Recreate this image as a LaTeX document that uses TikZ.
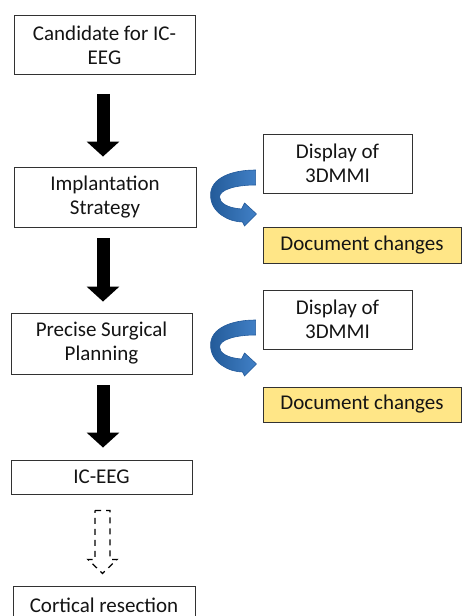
\documentclass[tikz,border=0pt]{standalone}
\usepackage{fontspec}
\setmainfont{Carlito}
\usetikzlibrary{arrows.meta,calc}
\definecolor{ribbon}{RGB}{44,114,192}
\definecolor{ribbonedge}{RGB}{35,90,155}
\definecolor{docyellow}{RGB}{255,230,135}
\definecolor{txt}{RGB}{20,20,20}
\definecolor{edge}{RGB}{50,50,50}
\begin{document}
\begin{tikzpicture}[x=1pt,y=-1pt,
  box/.style={draw=edge, line width=0.9pt, fill=white, align=center, inner sep=0pt, text=txt, font=\fontsize{21}{24}\selectfont},
  docbox/.style={box, fill=docyellow},
  blk/.style={line width=13pt, black, -{Triangle[width=32pt,length=15pt]}},
  dasharrow/.style={draw=black, line width=1.3pt, dash pattern=on 6pt off 5pt, fill=white},
  ribbon/.pic={
    \draw[ribbonedge, line width=0.6pt, left color=ribbon!80!black, right color=ribbon!90!white]
      (-7,6.5) .. controls (-31,6.5) and (-52,14.5) .. (-52,31.5)
      .. controls (-52,49.5) and (-33,58.5) .. (-20,58.5)
      -- (-18,62.5) -- (-6,50.5) -- (-18,39.5) -- (-21,45.5)
      .. controls (-35,44.5) and (-43,39.5) .. (-43,33.5)
      .. controls (-43,26.5) and (-28,21.5) .. (-7,21.5) -- cycle;
  },
]
\clip (0,0) rectangle (462,616);
\useasboundingbox (0,0) rectangle (462,616);

\node[box, minimum width=181pt, minimum height=59pt] (cand) at (104.5,45) {Candidate for IC-\\EEG};
\node[box, minimum width=182pt, minimum height=60pt] (impl) at (105,197) {Implantation\\Strategy};
\node[box, minimum width=181pt, minimum height=61pt] (plan) at (101.5,343.5) {Precise Surgical\\Planning};
\node[box, minimum width=181pt, minimum height=34pt] (iceeg) at (101.5,477) {IC-EEG};
\node[box, minimum width=182pt, minimum height=38pt] (resect) at (104,605) {Cortical resection};

\node[box, minimum width=149pt, minimum height=59pt] (disp1) at (337.5,163.5) {Display of\\3DMMI};
\node[docbox, minimum width=198pt, minimum height=36pt] (doc1) at (362,245) {Document changes};
\node[box, minimum width=149pt, minimum height=59pt] (disp2) at (337.5,319.5) {Display of\\3DMMI};
\node[docbox, minimum width=198pt, minimum height=35pt] (doc2) at (362,404.5) {Document changes};

\draw[blk] ([xshift=-1.5pt,yshift=-19pt]cand.south) -- ([xshift=-2pt,yshift=10pt]impl.north);
\draw[blk] ([xshift=-2pt,yshift=-11pt]impl.south) -- ([xshift=1.5pt,yshift=11pt]plan.north);
\draw[blk] ([xshift=1.5pt,yshift=-11pt]plan.south) -- ([xshift=1.5pt,yshift=12pt]iceeg.north);

\coordinate (dtop) at ([xshift=1pt,yshift=-16pt]iceeg.south);
\path[dasharrow] (dtop) ++(-7.5,0) -- ++(15,0) -- ++(0,49) -- ++(7,0) -- ++(-14.5,14) -- ++(-14.5,-14) -- ++(7,0) -- cycle;

\pic at (disp1.west) {ribbon};
\pic at ([yshift=6pt]disp2.west) {ribbon};
\end{tikzpicture}
\end{document}
